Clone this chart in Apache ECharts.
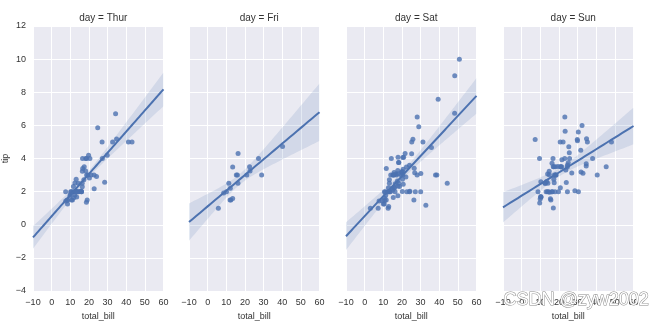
<!DOCTYPE html>
<html>
<head>
<meta charset="utf-8">
<script src="https://cdn.jsdelivr.net/npm/echarts@6/dist/echarts.min.js"></script>
<style>
  html, body { margin: 0; padding: 0; background: #fff; }
  #chart { width: 664px; height: 328px; }
</style>
</head>
<body>
<div id="chart"></div>
<script>
// Restaurant tips, split by day of the week
const days = ['Thur', 'Fri', 'Sat', 'Sun'];

const thurBill = [27.2,22.76,17.29,19.44,16.66,10.07,32.68,15.98,34.83,13.03,18.28,24.71,21.16,
  10.65,12.43,24.08,11.69,13.42,14.26,15.95,12.48,29.8,8.52,14.52,11.38,22.82,19.08,20.27,11.17,
  12.26,18.26,8.51,10.33,14.15,16.0,13.16,17.47,34.3,41.19,27.05,16.43,8.35,18.64,11.87,9.78,7.51,
  19.81,28.44,15.48,16.58,7.56,10.34,43.11,13.0,13.51,18.71,12.74,13.0,16.4,20.53,16.47,18.78];
const thurTip = [4.0,3.0,2.71,3.0,3.4,1.83,5.0,2.03,5.17,2.0,4.0,5.85,3.0,
  1.5,1.8,2.92,2.31,1.68,2.5,2.0,2.52,4.2,1.48,2.0,2.0,2.18,1.5,2.83,1.5,
  2.0,3.25,1.25,2.0,2.0,2.0,2.75,3.5,6.7,5.0,5.0,2.3,1.5,1.36,1.63,1.73,2.0,
  4.19,2.56,2.02,4.0,1.44,2.0,5.0,2.0,2.0,4.0,2.01,2.0,2.5,4.0,3.23,3.0];

const friBill = [28.97,22.49,5.75,16.32,22.75,40.17,27.28,12.03,21.01,12.46,11.35,15.38,
  12.16,13.42,8.58,15.98,13.42,16.27,10.09];
const friTip = [3.0,3.5,1.0,4.3,3.25,4.73,4.0,1.5,3.0,1.5,2.5,3.0,
  2.2,3.48,1.92,3.0,1.58,2.5,2.0];

const satBill = [20.65,17.92,20.29,15.77,39.42,19.82,17.81,13.37,12.69,21.7,19.65,9.55,18.35,15.06,
  20.69,17.78,24.06,16.31,16.93,18.69,31.27,16.04,
  38.01,26.41,11.24,48.27,20.29,13.81,11.02,18.29,17.59,20.08,16.45,3.07,20.23,15.01,12.02,17.07,
  26.86,25.28,14.73,10.51,17.92,
  44.3,22.42,20.92,15.36,20.49,25.21,18.24,14.31,14.0,7.25,
  10.59,10.63,50.81,15.81,
  26.59,38.73,24.27,12.76,30.06,25.89,48.33,13.27,28.17,12.9,28.15,11.59,7.74,30.14,
  20.45,13.28,22.12,24.01,15.69,11.61,10.77,15.53,10.07,12.6,32.83,35.83,29.03,27.18,22.67,17.82];
const satTip = [3.35,4.08,2.75,2.23,7.58,3.18,2.34,2.0,2.0,4.3,3.0,1.45,2.5,3.0,
  2.45,3.27,3.6,2.0,3.07,2.31,5.0,2.24,
  3.0,1.5,1.76,6.73,3.21,2.0,1.98,3.76,2.64,3.15,2.47,1.0,2.01,2.09,1.97,3.0,
  3.14,5.0,2.2,1.25,3.08,
  2.5,3.48,4.08,1.64,4.06,4.29,3.76,4.0,3.0,1.0,
  1.61,2.0,10.0,3.16,
  3.41,3.0,2.03,2.23,2.0,5.16,9.0,2.5,6.5,1.1,3.0,1.5,1.44,3.09,
  3.0,2.72,2.88,2.0,3.0,3.39,1.47,3.0,1.25,1.0,1.17,4.67,5.92,2.0,2.0,1.75];

const sunBill = [16.99,10.34,21.01,23.68,24.59,25.29,8.77,26.88,15.04,14.78,10.27,35.26,15.42,18.43,
  14.83,21.58,10.33,16.29,16.97,
  17.46,13.94,9.68,30.4,18.29,22.23,32.4,28.55,18.04,12.54,10.29,34.81,9.94,25.56,19.49,
  38.07,23.95,25.71,17.31,29.93,
  14.07,13.13,17.26,24.55,19.77,29.85,48.17,25.0,13.39,16.49,21.5,12.66,16.21,13.81,17.51,24.52,
  20.76,31.71,
  7.25,31.85,16.82,32.9,17.89,14.48,9.6,34.63,34.65,23.33,45.35,23.17,40.55,20.69,20.9,30.46,
  18.15,23.1,15.69];
const sunTip = [1.01,1.66,3.5,3.31,3.61,4.71,2.0,3.12,1.96,3.23,1.71,5.0,1.57,3.0,
  3.02,3.92,1.67,3.71,3.5,
  2.54,3.06,1.32,5.6,3.0,5.0,6.0,2.05,3.0,2.5,2.6,5.2,1.56,4.34,3.51,
  4.0,2.55,4.0,3.5,5.07,
  2.5,2.0,2.74,2.0,2.0,5.14,5.0,3.75,2.61,2.0,3.5,2.5,2.0,2.0,3.0,3.48,
  2.24,4.5,
  5.15,3.18,4.0,3.11,2.0,2.0,4.0,3.55,3.68,5.65,3.5,6.5,3.0,5.0,3.5,2.0,
  3.5,4.0,1.5];

const billsByDay = [thurBill, friBill, satBill, sunBill];
const tipsByDay = [thurTip, friTip, satTip, sunTip];

// Axis ranges shared by all panels
const xRange = [-10, 60];
const yRange = [-4, 12];
const xStep = 10;
const yStep = 2;

const BLUE = '#4C72B0';
const TEXT = '#333333';

// Ordinary least squares fit with a 95% confidence band for the mean
function fitLine(xs, ys) {
  const n = xs.length;
  let mx = 0, my = 0;
  for (let i = 0; i < n; i++) { mx += xs[i]; my += ys[i]; }
  mx /= n; my /= n;
  let sxx = 0, sxy = 0;
  for (let i = 0; i < n; i++) {
    sxx += (xs[i] - mx) * (xs[i] - mx);
    sxy += (xs[i] - mx) * (ys[i] - my);
  }
  const slope = sxy / sxx;
  const icpt = my - slope * mx;
  let sse = 0;
  for (let i = 0; i < n; i++) {
    const r = ys[i] - (icpt + slope * xs[i]);
    sse += r * r;
  }
  const s = Math.sqrt(sse / (n - 2));
  const tCrit = 1.96 + 2.4 / (n - 2);
  const line = [], band = [];
  const steps = 70;
  for (let k = 0; k <= steps; k++) {
    const x = xRange[0] + (xRange[1] - xRange[0]) * k / steps;
    const y = icpt + slope * x;
    const half = tCrit * s * Math.sqrt(1 / n + (x - mx) * (x - mx) / sxx);
    line.push([x, y]);
    band.push([x, y - half, y + half]);
  }
  return { line, band };
}

// Confidence band drawn as one polygon through the panel's own coordinate system
function bandRenderer(band) {
  return function (params, api) {
    if (params.dataIndex !== 0) return null;
    const pts = [];
    band.forEach(p => pts.push(api.coord([p[0], p[2]])));
    for (let k = band.length - 1; k >= 0; k--) pts.push(api.coord([band[k][0], band[k][1]]));
    return {
      type: 'polygon',
      shape: { points: pts },
      style: { fill: BLUE, opacity: 0.15 },
      clipPath: {
        type: 'rect',
        shape: {
          x: params.coordSys.x, y: params.coordSys.y,
          width: params.coordSys.width, height: params.coordSys.height
        }
      }
    };
  };
}

// Panel placement (pixels)
const panelLefts = [33, 189, 346, 503];
const panelWidth = 130.5;
const panelTop = 26;
const panelHeight = 265;

const minus = v => String(v).replace('-', '\u2212');

const grids = [], xAxes = [], yAxes = [], series = [], titles = [];

days.forEach((day, i) => {
  grids.push({
    left: panelLefts[i], top: panelTop, width: panelWidth, height: panelHeight,
    show: true, backgroundColor: '#EAEAF2', borderWidth: 0
  });
  xAxes.push({
    type: 'value', gridIndex: i, min: xRange[0], max: xRange[1], interval: xStep,
    axisLine: { show: false }, axisTick: { show: false },
    splitLine: { show: true, lineStyle: { color: '#ffffff', width: 1 } },
    axisLabel: { color: TEXT, fontSize: 9, margin: 7, fontFamily: 'Liberation Sans', formatter: minus },
    name: 'total_bill', nameLocation: 'middle', nameGap: 19,
    nameTextStyle: { color: TEXT, fontSize: 9, fontFamily: 'Liberation Sans' }
  });
  yAxes.push({
    type: 'value', gridIndex: i, min: yRange[0], max: yRange[1], interval: yStep,
    axisLine: { show: false }, axisTick: { show: false },
    splitLine: { show: true, lineStyle: { color: '#ffffff', width: 1 } },
    axisLabel: { show: i === 0, color: TEXT, fontSize: 9, margin: 7, fontFamily: 'Liberation Sans', formatter: minus },
    name: i === 0 ? 'tip' : '', nameLocation: 'middle', nameGap: 23,
    nameTextStyle: { color: TEXT, fontSize: 9, fontFamily: 'Liberation Sans' }
  });
  titles.push({
    text: 'day = ' + day,
    left: panelLefts[i] + panelWidth / 2, top: 8, textAlign: 'center',
    textStyle: { color: TEXT, fontSize: 10, fontWeight: 'normal', fontFamily: 'Liberation Sans' }
  });

  const fit = fitLine(billsByDay[i], tipsByDay[i]);
  series.push({
    type: 'custom', xAxisIndex: i, yAxisIndex: i, data: fit.band,
    renderItem: bandRenderer(fit.band), silent: true, z: 1
  });
  series.push({
    type: 'scatter', xAxisIndex: i, yAxisIndex: i,
    data: billsByDay[i].map((b, k) => [b, tipsByDay[i][k]]),
    symbolSize: 5, itemStyle: { color: BLUE, opacity: 0.8 }, z: 2
  });
  series.push({
    type: 'line', xAxisIndex: i, yAxisIndex: i, data: fit.line,
    symbol: 'none', lineStyle: { color: BLUE, width: 2 }, z: 3
  });
});

const chart = echarts.init(document.getElementById('chart'), null, { renderer: 'canvas' });
chart.setOption({
  animation: false,
  backgroundColor: '#ffffff',
  title: titles,
  grid: grids,
  xAxis: xAxes,
  yAxis: yAxes,
  series: series,
  graphic: [{
    type: 'text', left: 503, top: 291, z: 100,
    style: {
      text: 'CSDN @zyw2002', fontSize: 18, fontFamily: 'Liberation Sans',
      fill: '#ffffff', stroke: '#8a8a8a', lineWidth: 1
    }
  }]
});
</script>
</body>
</html>
